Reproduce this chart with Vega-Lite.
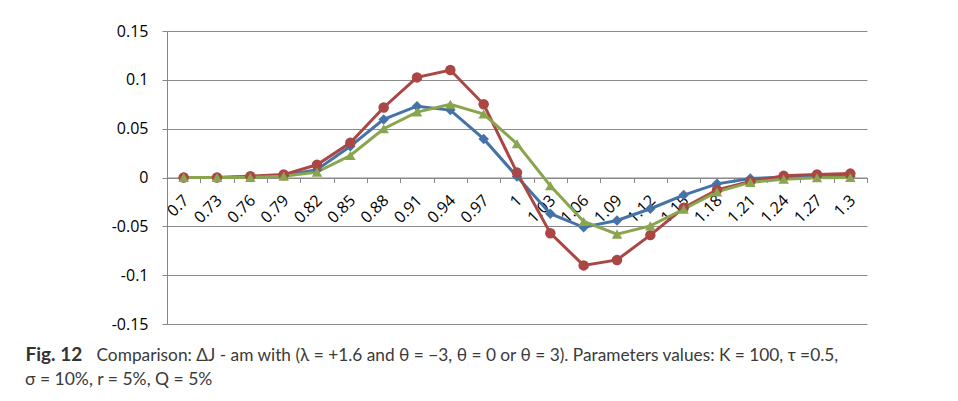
{
  "$schema": "https://vega.github.io/schema/vega-lite/v6.json",
  "width": 700,
  "height": 293,
  "autosize": {"type": "none"},
  "padding": {"left": 167, "top": 31, "right": 91, "bottom": 77},
  "background": "white",
  "config": {"view": {"stroke": null}},
  "title": {
    "text": "σ = 10%, r = 5%, Q = 5%",
    "orient": "bottom",
    "anchor": "start",
    "frame": "group",
    "dx": -142,
    "offset": 20,
    "baseline": "alphabetic",
    "font": "Lato",
    "fontSize": 17.5,
    "fontWeight": "normal",
    "color": "#3a3a3a"
  },
  "data": {
    "values": [
      {"x": "0.7", "s": "Series1", "v": 0.0},
      {"x": "0.73", "s": "Series1", "v": 0.0},
      {"x": "0.76", "s": "Series1", "v": 0.0005},
      {"x": "0.79", "s": "Series1", "v": 0.002},
      {"x": "0.82", "s": "Series1", "v": 0.008},
      {"x": "0.85", "s": "Series1", "v": 0.032},
      {"x": "0.88", "s": "Series1", "v": 0.0595},
      {"x": "0.91", "s": "Series1", "v": 0.073},
      {"x": "0.94", "s": "Series1", "v": 0.069},
      {"x": "0.97", "s": "Series1", "v": 0.0395},
      {"x": "1", "s": "Series1", "v": 0.001},
      {"x": "1.03", "s": "Series1", "v": -0.037},
      {"x": "1.06", "s": "Series1", "v": -0.051},
      {"x": "1.09", "s": "Series1", "v": -0.044},
      {"x": "1.12", "s": "Series1", "v": -0.032},
      {"x": "1.15", "s": "Series1", "v": -0.018},
      {"x": "1.18", "s": "Series1", "v": -0.0065},
      {"x": "1.21", "s": "Series1", "v": -0.001},
      {"x": "1.24", "s": "Series1", "v": 0.0003},
      {"x": "1.27", "s": "Series1", "v": 0.001},
      {"x": "1.3", "s": "Series1", "v": 0.001},
      {"x": "0.7", "s": "Series2", "v": 0.0},
      {"x": "0.73", "s": "Series2", "v": 0.0},
      {"x": "0.76", "s": "Series2", "v": 0.0014},
      {"x": "0.79", "s": "Series2", "v": 0.003},
      {"x": "0.82", "s": "Series2", "v": 0.013},
      {"x": "0.85", "s": "Series2", "v": 0.0355},
      {"x": "0.88", "s": "Series2", "v": 0.0717},
      {"x": "0.91", "s": "Series2", "v": 0.1025},
      {"x": "0.94", "s": "Series2", "v": 0.11},
      {"x": "0.97", "s": "Series2", "v": 0.075},
      {"x": "1", "s": "Series2", "v": 0.005},
      {"x": "1.03", "s": "Series2", "v": -0.057},
      {"x": "1.06", "s": "Series2", "v": -0.09},
      {"x": "1.09", "s": "Series2", "v": -0.0844},
      {"x": "1.12", "s": "Series2", "v": -0.059},
      {"x": "1.15", "s": "Series2", "v": -0.031},
      {"x": "1.18", "s": "Series2", "v": -0.0127},
      {"x": "1.21", "s": "Series2", "v": -0.004},
      {"x": "1.24", "s": "Series2", "v": 0.0017},
      {"x": "1.27", "s": "Series2", "v": 0.0032},
      {"x": "1.3", "s": "Series2", "v": 0.004},
      {"x": "0.7", "s": "Series3", "v": 0.0},
      {"x": "0.73", "s": "Series3", "v": 0.0},
      {"x": "0.76", "s": "Series3", "v": 0.0},
      {"x": "0.79", "s": "Series3", "v": 0.0014},
      {"x": "0.82", "s": "Series3", "v": 0.0055},
      {"x": "0.85", "s": "Series3", "v": 0.0225},
      {"x": "0.88", "s": "Series3", "v": 0.0499},
      {"x": "0.91", "s": "Series3", "v": 0.067},
      {"x": "0.94", "s": "Series3", "v": 0.075},
      {"x": "0.97", "s": "Series3", "v": 0.065},
      {"x": "1", "s": "Series3", "v": 0.0345},
      {"x": "1.03", "s": "Series3", "v": -0.0085},
      {"x": "1.06", "s": "Series3", "v": -0.045},
      {"x": "1.09", "s": "Series3", "v": -0.058},
      {"x": "1.12", "s": "Series3", "v": -0.0495},
      {"x": "1.15", "s": "Series3", "v": -0.0325},
      {"x": "1.18", "s": "Series3", "v": -0.0147},
      {"x": "1.21", "s": "Series3", "v": -0.005},
      {"x": "1.24", "s": "Series3", "v": -0.0017},
      {"x": "1.27", "s": "Series3", "v": -0.0003},
      {"x": "1.3", "s": "Series3", "v": 0.0}
    ]
  },
  "encoding": {
    "x": {
      "field": "x",
      "type": "ordinal",
      "sort": null,
      "bandPosition": 0.5,
      "scale": {"type": "band", "paddingInner": 0, "paddingOuter": 0},
      "axis": {
        "orient": "bottom",
        "offset": -146.5,
        "title": "Fig. 12",
        "titleX": -142,
        "titleY": 183,
        "titleAnchor": "start",
        "titleAlign": "left",
        "titleBaseline": "alphabetic",
        "titleAngle": 0,
        "titleFont": "Lato",
        "titleFontSize": 19,
        "titleFontWeight": "bold",
        "titleColor": "#333333",
        "tickBand": "extent",
        "tickSize": 5,
        "tickColor": "#868686",
        "domainColor": "#868686",
        "labelAngle": -45,
        "labelAlign": "right",
        "labelBaseline": "middle",
        "labelPadding": 15,
        "labelOffset": 2,
        "labelFont": "Open Sans",
        "labelFontSize": 16,
        "labelColor": "#000000",
        "labelOverlap": false,
        "grid": false
      }
    },
    "y": {
      "field": "v",
      "type": "quantitative",
      "scale": {"domain": [-0.15, 0.15], "nice": false, "zero": false},
      "axis": {
        "values": [-0.15, -0.1, -0.05, 0, 0.05, 0.1, 0.15],
        "labelExpr": "replace(format(datum.value, '.2~f'), '−', '-')",
        "grid": true,
        "gridColor": "#8c8c8c",
        "gridWidth": 1,
        "domainColor": "#868686",
        "tickColor": "#868686",
        "tickSize": 5,
        "labelPadding": 14,
        "labelFont": "Open Sans",
        "labelFontSize": 16,
        "labelColor": "#000000",
        "title": "Comparison: ΔJ - am with (λ = +1.6 and θ = −3, θ = 0 or θ = 3). Parameters values: K = 100, τ =0.5,",
        "titleX": -71,
        "titleY": 329,
        "titleAngle": 0,
        "titleAlign": "left",
        "titleBaseline": "alphabetic",
        "titleFont": "Lato",
        "titleFontSize": 17.3,
        "titleFontWeight": "normal",
        "titleColor": "#3a3a3a"
      }
    },
    "color": {
      "field": "s",
      "type": "nominal",
      "scale": {"domain": ["Series1", "Series2", "Series3"], "range": ["#4572A7", "#AA4643", "#89A54E"]},
      "legend": null
    }
  },
  "layer": [
    {"mark": {"type": "line", "strokeWidth": 3}},
    {
      "mark": {"type": "point", "filled": true, "opacity": 1, "size": 110},
      "encoding": {
        "shape": {
          "field": "s",
          "type": "nominal",
          "scale": {"domain": ["Series1", "Series2", "Series3"], "range": ["diamond", "circle", "triangle-up"]},
          "legend": null
        }
      }
    }
  ]
}
